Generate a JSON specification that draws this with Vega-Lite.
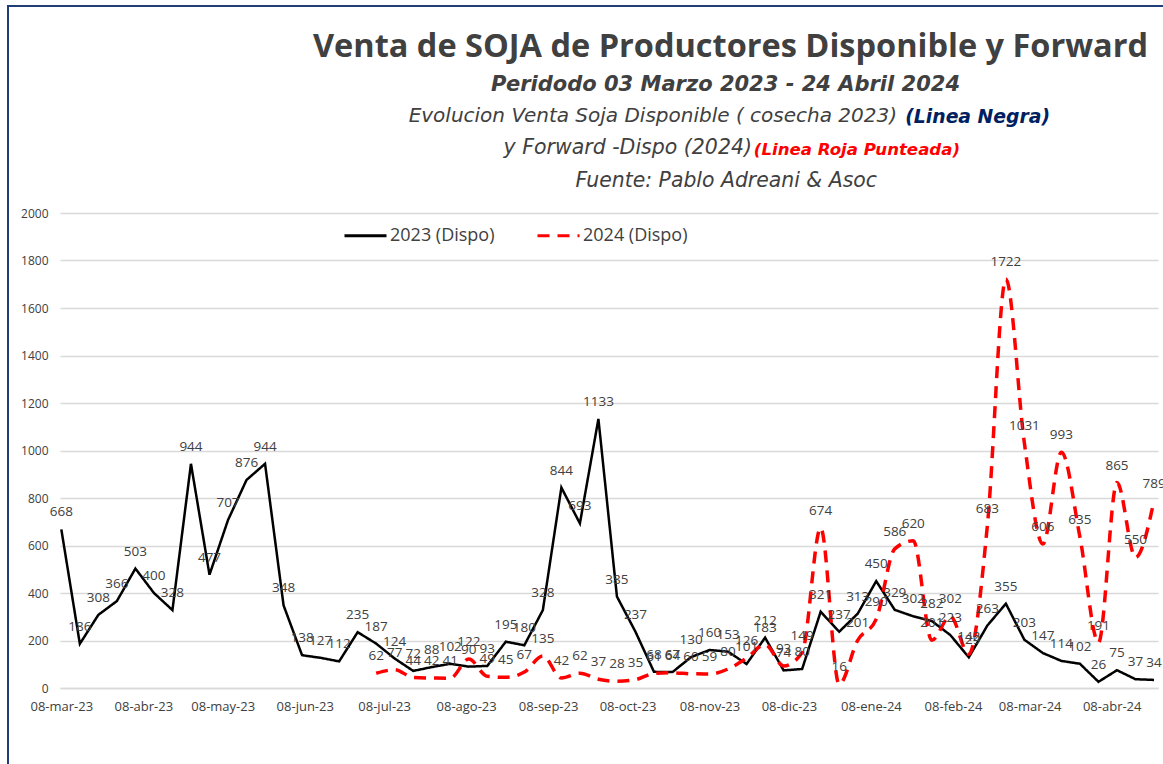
{
  "$schema": "https://vega.github.io/schema/vega-lite/v6.json",
  "background": "white",
  "padding": {"left": 7, "top": 5, "right": -6, "bottom": -5},
  "config": {
    "view": {"stroke": null},
    "font": "Open Sans",
    "title": {"color": "#404040", "frame": "group", "offset": 0, "baseline": "alphabetic"}
  },
  "datasets": {
    "soja": [
      {"fecha": "2023-03-08", "disp2023": 668},
      {"fecha": "2023-03-15", "disp2023": 186},
      {"fecha": "2023-03-22", "disp2023": 308},
      {"fecha": "2023-03-29", "disp2023": 366},
      {"fecha": "2023-04-05", "disp2023": 503},
      {"fecha": "2023-04-12", "disp2023": 400},
      {"fecha": "2023-04-19", "disp2023": 328},
      {"fecha": "2023-04-26", "disp2023": 944},
      {"fecha": "2023-05-03", "disp2023": 477},
      {"fecha": "2023-05-10", "disp2023": 707},
      {"fecha": "2023-05-17", "disp2023": 876},
      {"fecha": "2023-05-24", "disp2023": 944},
      {"fecha": "2023-05-31", "disp2023": 348},
      {"fecha": "2023-06-07", "disp2023": 138},
      {"fecha": "2023-06-14", "disp2023": 127},
      {"fecha": "2023-06-21", "disp2023": 112},
      {"fecha": "2023-06-28", "disp2023": 235},
      {"fecha": "2023-07-05", "disp2023": 187, "disp2024": 62},
      {"fecha": "2023-07-12", "disp2023": 124, "disp2024": 77},
      {"fecha": "2023-07-19", "disp2023": 72, "disp2024": 44},
      {"fecha": "2023-07-26", "disp2023": 88, "disp2024": 42},
      {"fecha": "2023-08-02", "disp2023": 102, "disp2024": 41},
      {"fecha": "2023-08-09", "disp2023": 90, "disp2024": 122},
      {"fecha": "2023-08-16", "disp2023": 93, "disp2024": 49},
      {"fecha": "2023-08-23", "disp2023": 195, "disp2024": 45},
      {"fecha": "2023-08-30", "disp2023": 180, "disp2024": 67},
      {"fecha": "2023-09-06", "disp2023": 328, "disp2024": 135},
      {"fecha": "2023-09-13", "disp2023": 844, "disp2024": 42},
      {"fecha": "2023-09-20", "disp2023": 693, "disp2024": 62},
      {"fecha": "2023-09-27", "disp2023": 1133, "disp2024": 37},
      {"fecha": "2023-10-04", "disp2023": 385, "disp2024": 28},
      {"fecha": "2023-10-11", "disp2023": 237, "disp2024": 35},
      {"fecha": "2023-10-18", "disp2023": 68, "disp2024": 61},
      {"fecha": "2023-10-25", "disp2023": 67, "disp2024": 64},
      {"fecha": "2023-11-01", "disp2023": 130, "disp2024": 60},
      {"fecha": "2023-11-08", "disp2023": 160, "disp2024": 59},
      {"fecha": "2023-11-15", "disp2023": 153, "disp2024": 80},
      {"fecha": "2023-11-22", "disp2023": 101, "disp2024": 126},
      {"fecha": "2023-11-29", "disp2023": 212, "disp2024": 183},
      {"fecha": "2023-12-06", "disp2023": 74, "disp2024": 93},
      {"fecha": "2023-12-13", "disp2023": 80, "disp2024": 149},
      {"fecha": "2023-12-20", "disp2023": 321, "disp2024": 674},
      {"fecha": "2023-12-27", "disp2023": 237, "disp2024": 16},
      {"fecha": "2024-01-03", "disp2023": 313, "disp2024": 201},
      {"fecha": "2024-01-10", "disp2023": 450, "disp2024": 290},
      {"fecha": "2024-01-17", "disp2023": 329, "disp2024": 586},
      {"fecha": "2024-01-24", "disp2023": 302, "disp2024": 620},
      {"fecha": "2024-01-31", "disp2023": 282, "disp2024": 201},
      {"fecha": "2024-02-07", "disp2023": 223, "disp2024": 302},
      {"fecha": "2024-02-14", "disp2023": 129, "disp2024": 142},
      {"fecha": "2024-02-21", "disp2023": 263, "disp2024": 683},
      {"fecha": "2024-02-28", "disp2023": 355, "disp2024": 1722},
      {"fecha": "2024-03-06", "disp2023": 203, "disp2024": 1031},
      {"fecha": "2024-03-13", "disp2023": 147, "disp2024": 606},
      {"fecha": "2024-03-20", "disp2023": 114, "disp2024": 993},
      {"fecha": "2024-03-27", "disp2023": 102, "disp2024": 635},
      {"fecha": "2024-04-03", "disp2023": 26, "disp2024": 191},
      {"fecha": "2024-04-10", "disp2023": 75, "disp2024": 865},
      {"fecha": "2024-04-17", "disp2023": 37, "disp2024": 550},
      {"fecha": "2024-04-24", "disp2023": 34, "disp2024": 789}
    ]
  },
  "spacing": 52,
  "bounds": "flush",
  "hconcat": [
    {
      "bounds": "flush",
      "vconcat": [
        {
          "width": 1160, "height": 762,
          "view": {"stroke": "#203D78", "strokeWidth": 2},
          "data": {"values": [{}]},
          "mark": {"type": "text", "text": "", "fontSize": 0.1}
        }
      ]
    },
    {
      "spacing": 0,
      "bounds": "flush",
      "vconcat": [
        {
          "width": 1098, "height": 60.5,
          "data": {"values": [{}]},
          "mark": {"type": "text", "text": "", "fontSize": 0.1}
        },
        {
          "width": 1088, "height": 31.9,
          "data": {"values": [{}]},
          "mark": {"type": "text", "text": "", "fontSize": 0.1},
          "title": {"text": "Venta de SOJA  de Productores  Disponible y Forward", "anchor": "end", "font": "Open Sans", "fontSize": 32.5, "fontWeight": "bold", "color": "#404040"}
        },
        {
          "width": 900, "height": 30.8,
          "data": {"values": [{}]},
          "mark": {"type": "text", "text": "", "fontSize": 0.1},
          "title": {"text": "Peridodo 03 Marzo 2023 - 24 Abril 2024", "anchor": "end", "font": "DejaVu Sans", "fontSize": 21, "fontWeight": "bold", "fontStyle": "italic", "color": "#404040"}
        },
        {
          "width": 837, "height": 0.01,
          "data": {"values": [{}]},
          "mark": {"type": "text", "text": "", "fontSize": 0.1},
          "title": {"text": "Evolucion Venta  Soja Disponible ( cosecha 2023)", "anchor": "end", "font": "DejaVu Sans", "fontSize": 20, "fontWeight": "normal", "fontStyle": "italic", "color": "#404040"}
        },
        {
          "width": 990, "height": 30.99,
          "data": {"values": [{}]},
          "mark": {"type": "text", "text": "", "fontSize": 0.1},
          "title": {"text": "(Linea Negra)", "anchor": "end", "font": "DejaVu Sans", "fontSize": 18.8, "fontWeight": "bold", "fontStyle": "italic", "color": "#002060"}
        },
        {
          "width": 692, "height": 0.01,
          "data": {"values": [{}]},
          "mark": {"type": "text", "text": "", "fontSize": 0.1},
          "title": {"text": "y  Forward -Dispo (2024)", "anchor": "end", "font": "DejaVu Sans", "fontSize": 20.5, "fontWeight": "normal", "fontStyle": "italic", "color": "#404040"}
        },
        {
          "width": 900, "height": 31.09,
          "data": {"values": [{}]},
          "mark": {"type": "text", "text": "", "fontSize": 0.1},
          "title": {"text": "(Linea Roja Punteada)", "anchor": "end", "font": "DejaVu Sans", "fontSize": 16.6, "fontWeight": "bold", "fontStyle": "italic", "color": "#FF0000"}
        },
        {
          "width": 817, "height": 17.7,
          "data": {"values": [{}]},
          "mark": {"type": "text", "text": "", "fontSize": 0.1},
          "title": {"text": "Fuente: Pablo Adreani & Asoc", "anchor": "end", "font": "DejaVu Sans", "fontSize": 20.4, "fontWeight": "normal", "fontStyle": "italic", "color": "#404040"}
        },
        {
          "width": 1098,
          "height": 475,
          "data": {"name": "soja"},
          "transform": [
            {"fold": ["disp2023", "disp2024"], "as": ["serie", "valor"]},
            {"filter": "isValid(datum.valor)"}
          ],
          "encoding": {
            "x": {
              "field": "fecha",
              "type": "temporal",
              "scale": {
                "type": "utc",
                "domain": [
                  {"year": 2023, "month": 3, "date": 7, "hours": 12, "utc": true},
                  {"year": 2024, "month": 4, "date": 25, "hours": 12, "utc": true}
                ]
              },
              "axis": {
                "title": null,
                "grid": false,
                "ticks": false,
                "domain": true,
                "domainColor": "#d9d9d9",
                "domainWidth": 1.3,
                "labelFont": "Open Sans",
                "labelFontSize": 13,
                "labelColor": "#404040",
                "labelPadding": 12,
                "labelFlush": false,
                "labelOverlap": false,
                "labelBound": false,
                "values": [
                  {"year": 2023, "month": 3, "date": 8, "utc": true},
                  {"year": 2023, "month": 4, "date": 8, "utc": true},
                  {"year": 2023, "month": 5, "date": 8, "utc": true},
                  {"year": 2023, "month": 6, "date": 8, "utc": true},
                  {"year": 2023, "month": 7, "date": 8, "utc": true},
                  {"year": 2023, "month": 8, "date": 8, "utc": true},
                  {"year": 2023, "month": 9, "date": 8, "utc": true},
                  {"year": 2023, "month": 10, "date": 8, "utc": true},
                  {"year": 2023, "month": 11, "date": 8, "utc": true},
                  {"year": 2023, "month": 12, "date": 8, "utc": true},
                  {"year": 2024, "month": 1, "date": 8, "utc": true},
                  {"year": 2024, "month": 2, "date": 8, "utc": true},
                  {"year": 2024, "month": 3, "date": 8, "utc": true},
                  {"year": 2024, "month": 4, "date": 8, "utc": true}
                ],
                "labelExpr": "utcFormat(datum.value, '%d') + '-' + ['ene','feb','mar','abr','may','jun','jul','ago','sep','oct','nov','dic'][utcmonth(datum.value)] + '-' + utcFormat(datum.value, '%y')"
              }
            },
            "y": {
              "field": "valor",
              "type": "quantitative",
              "scale": {"domain": [0, 2000], "nice": false},
              "axis": {
                "title": null,
                "values": [0, 200, 400, 600, 800, 1000, 1200, 1400, 1600, 1800, 2000],
                "format": "d",
                "grid": true,
                "gridColor": "#d9d9d9",
                "gridWidth": 1.3,
                "domain": false,
                "ticks": false,
                "labelFont": "Open Sans",
                "labelFontSize": 12,
                "labelColor": "#404040",
                "labelPadding": 12
              }
            }
          },
          "layer": [
            {
              "transform": [{"filter": "datum.serie === 'disp2023'"}],
              "mark": {"type": "line", "strokeWidth": 2.5, "interpolate": "linear"},
              "encoding": {
                "color": {
                  "field": "serie", "type": "nominal",
                  "scale": {"domain": ["disp2023", "disp2024"], "range": ["#000000", "#FF0000"]},
                  "legend": {"title": null, "orient": "none", "legendX": 335, "legendY": 207, "direction": "horizontal", "symbolType": "stroke", "symbolSize": 1764, "symbolStrokeWidth": 3, "labelFontSize": 18, "labelColor": "#404040", "labelFont": "Open Sans", "columnPadding": 36, "labelOffset": 2, "padding": 0, "labelExpr": "datum.label == 'disp2023' ? '2023 (Dispo)' : '2024 (Dispo)'"}
                },
                "strokeDash": {
                  "field": "serie", "type": "nominal",
                  "scale": {"domain": ["disp2023", "disp2024"], "range": [[1, 0], [12, 8]]},
                  "legend": {"title": null, "orient": "none", "legendX": 335, "legendY": 207, "direction": "horizontal", "symbolType": "stroke", "symbolSize": 1764, "symbolStrokeWidth": 3, "labelFontSize": 18, "labelColor": "#404040", "labelFont": "Open Sans", "columnPadding": 36, "labelOffset": 2, "padding": 0, "labelExpr": "datum.label == 'disp2023' ? '2023 (Dispo)' : '2024 (Dispo)'"}
                }
              }
            },
            {
              "transform": [{"filter": "datum.serie === 'disp2024'"}],
              "mark": {"type": "line", "strokeWidth": 3.5, "interpolate": "monotone"},
              "encoding": {
                "color": {
                  "field": "serie", "type": "nominal",
                  "scale": {"domain": ["disp2023", "disp2024"], "range": ["#000000", "#FF0000"]},
                  "legend": {"title": null, "orient": "none", "legendX": 335, "legendY": 207, "direction": "horizontal", "symbolType": "stroke", "symbolSize": 1764, "symbolStrokeWidth": 3, "labelFontSize": 18, "labelColor": "#404040", "labelFont": "Open Sans", "columnPadding": 36, "labelOffset": 2, "padding": 0, "labelExpr": "datum.label == 'disp2023' ? '2023 (Dispo)' : '2024 (Dispo)'"}
                },
                "strokeDash": {
                  "field": "serie", "type": "nominal",
                  "scale": {"domain": ["disp2023", "disp2024"], "range": [[1, 0], [12, 8]]},
                  "legend": {"title": null, "orient": "none", "legendX": 335, "legendY": 207, "direction": "horizontal", "symbolType": "stroke", "symbolSize": 1764, "symbolStrokeWidth": 3, "labelFontSize": 18, "labelColor": "#404040", "labelFont": "Open Sans", "columnPadding": 36, "labelOffset": 2, "padding": 0, "labelExpr": "datum.label == 'disp2023' ? '2023 (Dispo)' : '2024 (Dispo)'"}
                }
              }
            },
            {
              "transform": [{"filter": "datum.serie === 'disp2023'"}],
              "mark": {"type": "text", "dy": -17, "fontSize": 13.5, "font": "Open Sans", "color": "#404040"},
              "encoding": {"text": {"field": "valor", "type": "quantitative", "format": "d"}}
            },
            {
              "transform": [{"filter": "datum.serie === 'disp2024'"}],
              "mark": {"type": "text", "dy": -17, "fontSize": 13.5, "font": "Open Sans", "color": "#404040"},
              "encoding": {"text": {"field": "valor", "type": "quantitative", "format": "d"}}
            }
          ]
        }
      ]
    }
  ]
}
